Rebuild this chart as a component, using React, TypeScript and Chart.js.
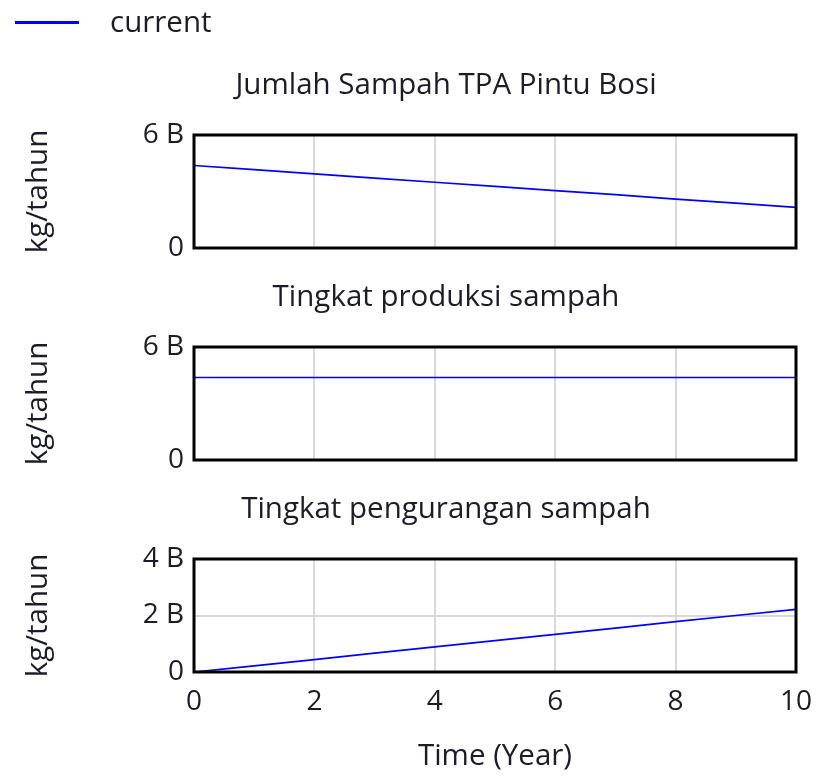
import React, { useEffect, useRef } from 'react';
import { Chart, registerables } from 'chart.js';

Chart.register(...registerables);

// ---- data (values in billions, kg/tahun) ----
const years = [0, 1, 2, 3, 4, 5, 6, 7, 8, 9, 10];
const seriesLabel = 'current';
const jumlahSampah = [4.38, 4.16, 3.94, 3.71, 3.49, 3.27, 3.05, 2.83, 2.6, 2.38, 2.16];
const tingkatProduksi = [4.38, 4.38, 4.38, 4.38, 4.38, 4.38, 4.38, 4.38, 4.38, 4.38, 4.38];
const tingkatPengurangan = [0, 0.22, 0.44, 0.67, 0.89, 1.11, 1.33, 1.55, 1.78, 2.0, 2.22];
const panelTitles = ['Jumlah Sampah TPA Pintu Bosi', 'Tingkat produksi sampah', 'Tingkat pengurangan sampah'];
const yAxisLabel = 'kg/tahun';
const xAxisLabel = 'Time (Year)';
const yMaxes = [6, 6, 4];
const ySteps = [6, 6, 2];
const xTickStep = 2;

const FONT = "'Open Sans', 'Noto Sans', sans-serif";
const TEXT = '#1c1c28';
const FS = 29.5;
const FS_TICK = 28;
const LINE = '#0000ff';
const GRID = '#d9d9d9';

const framePlugin = {
  id: 'frame',
  afterDraw(chart: any) {
    const { ctx, chartArea: a } = chart;
    ctx.save();
    ctx.strokeStyle = '#000';
    ctx.lineWidth = 3;
    ctx.strokeRect(a.left, a.top, a.right - a.left, a.bottom - a.top);
    ctx.restore();
  },
};

const legendPlugin = {
  id: 'topLegend',
  afterDraw(chart: any) {
    const { ctx } = chart;
    const ds = chart.data.datasets[0];
    ctx.save();
    ctx.strokeStyle = ds.borderColor;
    ctx.lineWidth = 3;
    ctx.beginPath();
    ctx.moveTo(15, 22.5);
    ctx.lineTo(79, 22.5);
    ctx.stroke();
    ctx.fillStyle = TEXT;
    ctx.font = `${FS}px ${FONT}`;
    ctx.textBaseline = 'alphabetic';
    ctx.textAlign = 'left';
    ctx.fillText(ds.label, 110, 32);
    ctx.restore();
  },
};

const fmt = (v: any) => (Number(v) === 0 ? '0' : `${v} B`);

function buildConfig(idx: number, values: number[], showX: boolean, legend: boolean): any {
  const font = { family: FONT, size: FS, weight: 'normal' as const, lineHeight: '34px' };
  const tickFont = { family: FONT, size: FS_TICK, weight: 'normal' as const, lineHeight: '34px' };
  return {
    type: 'line',
    data: {
      datasets: [
        {
          label: seriesLabel,
          data: years.map((x, i) => ({ x, y: values[i] })),
          borderColor: LINE,
          backgroundColor: LINE,
          borderWidth: 1.7,
          pointRadius: 0,
          fill: false,
          tension: 0,
        },
      ],
    },
    options: {
      responsive: false,
      animation: false,
      layout: { padding: { left: 96, right: 96, top: 0, bottom: showX ? 0 : 20 } },
      plugins: {
        legend: { display: false },
        tooltip: { enabled: false },
        title: {
          display: true,
          text: panelTitles[idx],
          color: TEXT,
          font,
          padding: { top: 69, bottom: 32 },
        },
      },
      scales: {
        x: {
          type: 'linear',
          min: 0,
          max: 10,
          ticks: { display: showX, stepSize: xTickStep, color: TEXT, font: tickFont, padding: 13 },
          grid: { color: GRID, lineWidth: 2, drawTicks: false },
          border: { display: false },
          title: {
            display: showX,
            text: xAxisLabel,
            color: TEXT,
            font,
            padding: { top: 0, bottom: 2 },
          },
          afterFit: (s: any) => {
            s.height = showX ? 104 : 0;
          },
        },
        y: {
          min: 0,
          max: yMaxes[idx],
          ticks: { stepSize: ySteps[idx], color: TEXT, font: tickFont, padding: 10, callback: fmt },
          grid: { color: GRID, lineWidth: 2, drawTicks: false },
          border: { display: false },
          title: {
            display: true,
            text: yAxisLabel,
            color: TEXT,
            font,
            padding: { top: -74, bottom: 0 },
          },
          afterFit: (s: any) => {
            s.width = 98;
          },
        },
      },
    },
    plugins: legend ? [framePlugin, legendPlugin] : [framePlugin],
  };
}

function Panel(props: { idx: number; values: number[]; top: number; height: number; showX: boolean; legend: boolean }) {
  const ref = useRef<HTMLCanvasElement>(null);
  useEffect(() => {
    if (!ref.current) return;
    const chart = new Chart(ref.current, buildConfig(props.idx, props.values, props.showX, props.legend));
    return () => chart.destroy();
  }, []);
  return (
    <canvas
      ref={ref}
      width={892}
      height={props.height}
      style={{ position: 'absolute', left: 0, top: props.top, width: 892, height: props.height }}
    />
  );
}

export default function App() {
  return (
    <div
      style={{
        position: 'absolute',
        left: 0,
        top: 0,
        width: 816,
        height: 776,
        overflow: 'hidden',
        background: '#fff',
      }}
    >
      <Panel idx={0} values={jumlahSampah} top={0} height={275} showX={false} legend={true} />
      <Panel idx={1} values={tingkatProduksi} top={212} height={275} showX={false} legend={false} />
      <Panel idx={2} values={tingkatPengurangan} top={424} height={352} showX={true} legend={false} />
    </div>
  );
}
